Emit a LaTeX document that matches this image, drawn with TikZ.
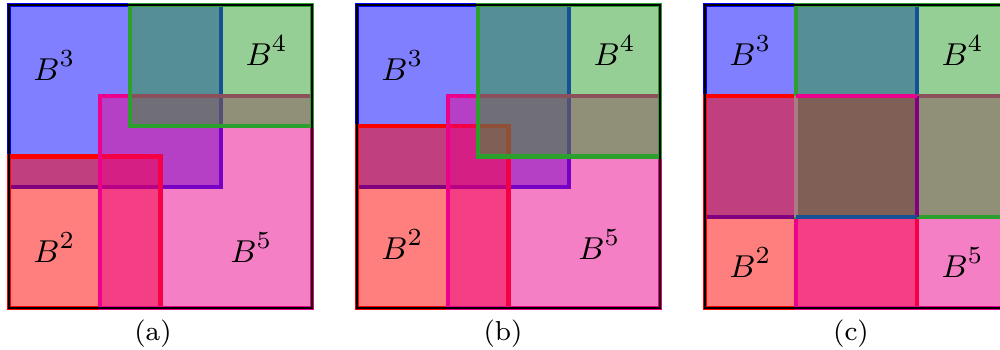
\documentclass[tikz,border=0pt]{standalone}
\usepackage{xcolor}
\usepackage{amsmath}
\usepackage{tikz}
\definecolor{myblue}{RGB}{0,0,255}
\definecolor{myred}{RGB}{255,0,0}
\definecolor{mygreen}{RGB}{44,160,44}
\definecolor{mymagenta}{RGB}{236,0,140}
\definecolor{mynavy}{RGB}{24,80,150}
\definecolor{mypurple}{RGB}{128,0,128}
\definecolor{mypale}{RGB}{172,122,130}
\tikzset{
  region/.style={draw=#1, fill=#1, fill opacity=0.5, draw opacity=1,
    line width=1.15pt},
  edge/.style={draw=#1, line width=1.15pt},
  frame/.style={draw=black, line width=0.3pt},
  lbl/.style={font=\fontsize{9.5}{11}\selectfont},
  subcap/.style={font=\fontsize{7.8}{9}\selectfont}
}

\begin{document}
\begin{tikzpicture}
  \useasboundingbox (0,0) rectangle (10,3.5);
  % Panel (a)
  \begin{scope}[shift={(0.09cm,0.42cm)}, x=3.03cm, y=3.03cm]
    \filldraw[region=myblue] (0,0.4) rectangle (0.7,1);
    \filldraw[region=myred] (0,0) rectangle (0.5,0.5);
    \filldraw[region=mymagenta] (0.3,0) rectangle (1,0.7);
    \filldraw[region=mygreen] (0.4,0.6) rectangle (1,1);
    \draw[frame] (0,0) rectangle (1,1);
    \node[lbl] (a3) at (0.15,0.8) {$B^3$};
    \node[lbl] (a4) at (0.85,0.85) {$B^4$};
    \node[lbl] (a2) at (0.15,0.2) {$B^2$};
    \node[lbl] (a5) at (0.8,0.2) {$B^5$};
  \end{scope}
  \node[subcap] (capa) at (1.53,0.16) {(a)};
  % Panel (b)
  \begin{scope}[shift={(3.57cm,0.42cm)}, x=3.03cm, y=3.03cm]
    \filldraw[region=myblue] (0,0.4) rectangle (0.7,1);
    \filldraw[region=myred] (0,0) rectangle (0.5,0.6);
    \filldraw[region=mymagenta] (0.3,0) rectangle (1,0.7);
    \filldraw[region=mygreen] (0.4,0.5) rectangle (1,1);
    \draw[frame] (0,0) rectangle (1,1);
    \node[lbl] (b3) at (0.15,0.8) {$B^3$};
    \node[lbl] (b4) at (0.85,0.85) {$B^4$};
    \node[lbl] (b2) at (0.15,0.21) {$B^2$};
    \node[lbl] (b5) at (0.8,0.21) {$B^5$};
  \end{scope}
  \node[subcap] (capb) at (5.03,0.16) {(b)};
  % Panel (c)
  \begin{scope}[shift={(7.05cm,0.42cm)}, x=3.03cm, y=3.03cm]
    \filldraw[region=myblue] (0,0.3) rectangle (0.7,1);
    \filldraw[region=myred] (0,0) rectangle (0.7,0.7);
    \filldraw[region=mymagenta] (0.3,0) rectangle (1,0.7);
    \filldraw[region=mygreen] (0.3,0.3) rectangle (1,1);
    % edges of the middle cell
    \draw[edge=mypale] (0.3,0.3) -- (0.3,0.7);
    \draw[edge=mypurple] (0.7,0.3) -- (0.7,0.7);
    \draw[edge=mynavy] (0.3,0.3) -- (0.7,0.3);
    \draw[edge=mymagenta] (0.3,0.7) -- (0.7,0.7);
    \draw[frame] (0,0) rectangle (1,1);
    \node[lbl] (c3) at (0.15,0.85) {$B^3$};
    \node[lbl] (c4) at (0.85,0.85) {$B^4$};
    \node[lbl] (c2) at (0.15,0.15) {$B^2$};
    \node[lbl] (c5) at (0.85,0.15) {$B^5$};
  \end{scope}
  \node[subcap] (capc) at (8.51,0.16) {(c)};
\end{tikzpicture}
\end{document}
